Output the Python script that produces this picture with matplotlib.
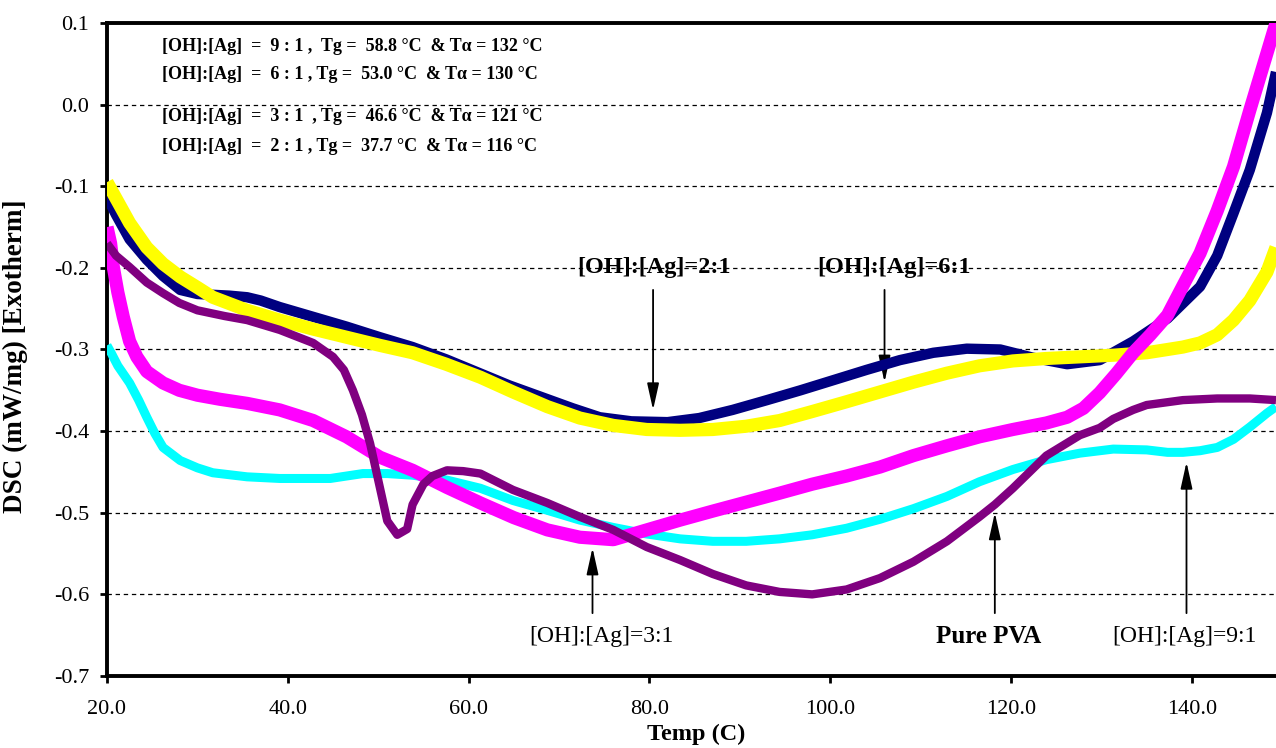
"""DSC curves of PVA / Ag films for several [OH]:[Ag] ratios."""

import matplotlib
matplotlib.use("Agg")
import matplotlib.pyplot as plt

SERIF = ["Liberation Serif", "DejaVu Serif"]
plt.rcParams["font.family"] = SERIF
plt.rcParams["axes.unicode_minus"] = False

# [OH]:[Ag] = 2:1
temp_21 = [20, 21, 22.5, 24.4, 26.2, 28.1, 30, 31.7, 33.5, 35.5, 37, 39.1,
           42.8, 46.5, 50.2, 53.8, 57.5, 61, 64.5, 68, 71.5, 74.5, 78, 82,
           85.5, 89.2, 93, 96.7, 100.5, 104, 107.7, 111.4, 115.1, 118.8,
           122.4, 126.2, 129.8, 133.5, 137.3, 140.9, 142.8, 144.6, 146.4,
           148.3, 149.3]
dsc_21 = [-0.113, -0.135, -0.165, -0.19, -0.21, -0.227, -0.232, -0.233,
          -0.234, -0.236, -0.24, -0.248, -0.26, -0.272, -0.285, -0.297,
          -0.312, -0.328, -0.344, -0.358, -0.372, -0.383, -0.388, -0.389,
          -0.384, -0.374, -0.362, -0.35, -0.337, -0.325, -0.313, -0.304,
          -0.299, -0.300, -0.310, -0.318, -0.313, -0.290, -0.262, -0.223,
          -0.185, -0.133, -0.08, -0.01, 0.04]

# [OH]:[Ag] = 6:1
temp_61 = [20, 21, 22.5, 24.4, 26.2, 28.1, 30, 31.7, 35.5, 39.1, 42.8, 46.5,
           50.2, 53.8, 57.5, 61.3, 64.9, 68.7, 72.3, 76, 79.7, 83.4, 87,
           90.7, 94.4, 98, 101.8, 105.5, 109.2, 112.9, 116.5, 120.2, 123.9,
           127.6, 131.3, 135, 137.3, 139, 140.9, 142.8, 144.6, 146.4, 148.3,
           149.3]
dsc_61 = [-0.095, -0.115, -0.145, -0.175, -0.195, -0.211, -0.224, -0.236,
          -0.252, -0.264, -0.275, -0.285, -0.295, -0.304, -0.318, -0.334,
          -0.352, -0.37, -0.384, -0.393, -0.398, -0.399, -0.398, -0.394,
          -0.387, -0.376, -0.364, -0.352, -0.34, -0.329, -0.320, -0.314,
          -0.311, -0.309, -0.307, -0.304, -0.30, -0.297, -0.292, -0.282,
          -0.264, -0.24, -0.205, -0.175]

# [OH]:[Ag] = 3:1
temp_31 = [20, 20.4, 20.7, 21.2, 21.8, 22.5, 23.3, 24.4, 26.2, 28, 30, 32.5,
           35.5, 39.1, 42.8, 46.5, 50.2, 53.8, 57.6, 61.3, 65, 68.7, 72.3,
           76, 79.7, 83.4, 87, 90.7, 94.4, 98, 101.8, 105.5, 109.2, 112.9,
           116.5, 120.2, 123.9, 126.2, 128, 129.8, 131.6, 133.5, 135.4,
           137.3, 139, 140.9, 142.8, 144.6, 146.4, 148.3, 149.3]
dsc_31 = [-0.15, -0.17, -0.199, -0.23, -0.26, -0.29, -0.309, -0.327, -0.341,
          -0.35, -0.356, -0.361, -0.366, -0.374, -0.387, -0.407, -0.432,
          -0.448, -0.469, -0.488, -0.506, -0.521, -0.53, -0.533, -0.521,
          -0.509, -0.498, -0.487, -0.476, -0.465, -0.455, -0.444, -0.43,
          -0.418, -0.407, -0.398, -0.39, -0.383, -0.372, -0.353, -0.33,
          -0.304, -0.282, -0.258, -0.222, -0.182, -0.13, -0.076, -0.007,
          0.063, 0.1]

# pure PVA
temp_pva = [20, 21, 22.5, 24.4, 26.2, 28, 30, 33, 35.5, 39.1, 42.8, 45,
            46.2, 47.2, 48.2, 49.1, 50.2, 51, 52.1, 53.2, 53.8, 55, 56,
            57.6, 59.4, 61.3, 63.1, 64.9, 68.7, 72.3, 76, 79.7, 83.4, 87,
            90.7, 94.4, 98, 101.8, 105.5, 109.2, 112.9, 116.5, 118.2, 120.2,
            123.9, 127.6, 129.8, 131.3, 133.5, 135, 139, 142.8, 146.4, 149.3]
dsc_pva = [-0.17, -0.185, -0.199, -0.218, -0.231, -0.243, -0.252, -0.259,
           -0.264, -0.276, -0.292, -0.309, -0.325, -0.35, -0.38, -0.415,
           -0.47, -0.51, -0.527, -0.52, -0.49, -0.465, -0.455, -0.448,
           -0.449, -0.452, -0.462, -0.472, -0.488, -0.505, -0.521, -0.542,
           -0.558, -0.575, -0.589, -0.597, -0.600, -0.594, -0.58, -0.56,
           -0.535, -0.505, -0.49, -0.47, -0.43, -0.405, -0.396, -0.385,
           -0.374, -0.368, -0.362, -0.36, -0.36, -0.362]

# [OH]:[Ag] = 9:1
temp_91 = [20, 20.5, 21.2, 22.5, 23.5, 24.4, 25.3, 26.2, 28.1, 30, 31.7,
           35.5, 39.1, 44.7, 48.3, 51, 53.8, 57.6, 61.3, 64.9, 68.7, 72.3,
           76, 79.7, 83.4, 87, 90.7, 94.4, 98, 101.8, 105.5, 109.2, 112.9,
           116.5, 120.2, 123.9, 127.6, 131.3, 135, 137.3, 139, 140.9, 142.8,
           144.6, 146.4, 148.3, 149.3]
dsc_91 = [-0.295, -0.305, -0.32, -0.341, -0.362, -0.383, -0.403, -0.42,
          -0.436, -0.445, -0.451, -0.456, -0.458, -0.458, -0.452, -0.452,
          -0.454, -0.46, -0.47, -0.485, -0.497, -0.509, -0.518, -0.526,
          -0.532, -0.535, -0.535, -0.532, -0.527, -0.519, -0.508, -0.495,
          -0.48, -0.462, -0.447, -0.435, -0.427, -0.422, -0.423, -0.426,
          -0.426, -0.424, -0.42, -0.41, -0.395, -0.378, -0.37]

x_ticks = [20, 40, 60, 80, 100, 120, 140]
y_ticks = [-0.7, -0.6, -0.5, -0.4, -0.3, -0.2, -0.1, 0.0, 0.1]

info_lines = [
    "[OH]:[Ag]  =  9 : 1 ,  Tg =  58.8 °C  & Tα = 132 °C",
    "[OH]:[Ag]  =  6 : 1 , Tg =  53.0 °C  & Tα = 130 °C",
    "[OH]:[Ag]  =  3 : 1  , Tg =  46.6 °C  & Tα = 121 °C",
    "[OH]:[Ag]  =  2 : 1 , Tg =  37.7 °C  & Tα = 116 °C",
]
info_y = [0.071, 0.037, -0.015, -0.051]

fig = plt.figure(figsize=(12.76, 7.48), dpi=100)
ax = fig.add_axes([107 / 1276, 1 - 676 / 748, 1 - 107 / 1276, (676 - 23) / 748])

# curves, bottom to top
ax.plot(temp_91, dsc_91, color="#00FFFF", lw=6.5, solid_capstyle="butt", zorder=3)
ax.plot(temp_21, dsc_21, color="#000080", lw=7.5, solid_capstyle="butt", zorder=4)
ax.plot(temp_61, dsc_61, color="#FFFF00", lw=9.5, solid_capstyle="butt", zorder=5)
ax.plot(temp_31, dsc_31, color="#FF00FF", lw=9.5, solid_capstyle="butt", zorder=6)
ax.plot(temp_pva, dsc_pva, color="#800080", lw=6, solid_capstyle="butt", zorder=7)

ax.set_xlim(20, 149.3)
ax.set_ylim(-0.7, 0.1)
ax.set_xticks(x_ticks)
ax.set_xticklabels([f"{t:.1f}" for t in x_ticks])
ax.set_yticks(y_ticks)
ax.set_yticklabels([f"{t:.1f}" for t in y_ticks])

for yv in y_ticks[1:-1]:
    ax.axhline(yv, color="black", lw=0.9, ls=(0, (3.5, 3)), zorder=1)

for side in ("left", "bottom", "top"):
    ax.spines[side].set_linewidth(2.8)
ax.spines["right"].set_visible(False)

ax.tick_params(axis="both", direction="out", length=5, width=2, labelsize=16)
ax.tick_params(axis="x", pad=12)
ax.tick_params(axis="y", pad=8)

ax.set_xlabel("Temp (C)", fontsize=17.5, fontweight="bold")
ax.xaxis.set_label_coords(0.504, -0.073)
ax.set_ylabel("DSC (mW/mg) [Exotherm]", fontsize=19.5, fontweight="bold")
ax.yaxis.set_label_coords(-0.068, 0.49)

for text, yv in zip(info_lines, info_y):
    ax.text(26.1, yv, text, fontsize=13, fontweight="bold", va="center", ha="left")

arrow = dict(arrowstyle="-|>,head_length=0.9,head_width=0.2", color="black",
             lw=1.3, shrinkA=0, shrinkB=0, mutation_scale=18)

ax.text(80.5, -0.2, "[OH]:[Ag]=2:1", fontsize=17.5, fontweight="bold", ha="center", va="center")
ax.annotate("", xy=(80.4, -0.374), xytext=(80.4, -0.227), arrowprops=arrow)

ax.text(107, -0.2, "[OH]:[Ag]=6:1", fontsize=17.5, fontweight="bold", ha="center", va="center")
ax.annotate("", xy=(106, -0.34), xytext=(106, -0.227), arrowprops=arrow)

ax.text(74.7, -0.651, "[OH]:[Ag]=3:1", fontsize=17, ha="center", va="center")
ax.annotate("", xy=(73.7, -0.543), xytext=(73.7, -0.623), arrowprops=arrow)

ax.text(117.5, -0.651, "Pure PVA", fontsize=18, fontweight="bold", ha="center", va="center")
ax.annotate("", xy=(118.2, -0.50), xytext=(118.2, -0.623), arrowprops=arrow)

ax.text(139.2, -0.651, "[OH]:[Ag]=9:1", fontsize=17, ha="center", va="center")
ax.annotate("", xy=(139.4, -0.438), xytext=(139.4, -0.623), arrowprops=arrow)

fig.savefig("out.png", dpi=100)
